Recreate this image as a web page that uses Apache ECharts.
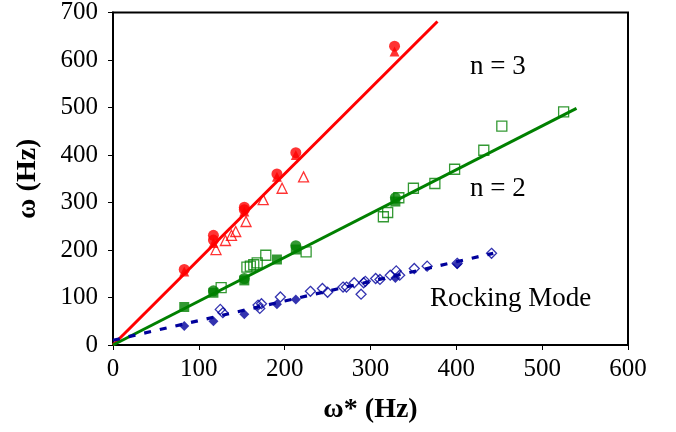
<!DOCTYPE html>
<html>
<head>
<meta charset="utf-8">
<script src="https://cdn.jsdelivr.net/npm/echarts@6/dist/echarts.min.js"></script>
<style>
html,body{margin:0;padding:0;background:#fff;}
#chart{width:676px;height:432px;}
</style>
</head>
<body>
<div id="chart"></div>
<script>
// ---- data (ω*, ω) in Hz ----
var xTicks = [0, 100, 200, 300, 400, 500, 600];
var yTicks = [0, 100, 200, 300, 400, 500, 600, 700];

var n3Fit = [[0, 0], [378, 681]];
var n3Filled = [[83, 159], [117, 231], [117, 221], [153, 290], [153, 285], [191, 360], [213, 405], [328, 629]];
var n3FilledTri = [[83, 155], [117, 215], [153, 281], [191, 354], [213, 400], [328, 618]];
var n3Open = [[120, 201], [131, 220], [138, 231], [143, 239], [155, 260], [175, 306], [197, 330], [222, 354]];

var n2Fit = [[0, 0], [540, 498]];
var n2FilledSq = [[83, 80], [117, 110], [153, 136], [191, 180], [213, 201], [329, 302]];
var n2FilledCirc = [[117, 114], [153, 140], [213, 209], [329, 310]];
var n2Open = [[126, 121], [156, 164], [160, 166], [164, 169], [168, 173], [178, 189], [225, 196], [315, 270], [320, 279],
              [333, 310], [350, 330], [375, 340], [398, 370], [432, 410], [453, 461], [525, 491]];

var rockFit = [[0, 10], [443, 193]];
var rockFilled = [[83, 40], [117, 50], [153, 65], [191, 86], [213, 96], [329, 141], [401, 170]];
var rockOpen = [[125, 75], [128, 68], [169, 84], [173, 87], [171, 77], [195, 101], [230, 113], [244, 119], [250, 111],
                [268, 122], [272, 122], [281, 131], [289, 107], [292, 131], [294, 134], [306, 140], [311, 138],
                [323, 147], [330, 156], [334, 147], [351, 161], [366, 166], [401, 172], [441, 193]];

var labels = [
  {text: 'n = 3', left: 470, top: 53},
  {text: 'n = 2', left: 470, top: 175},
  {text: 'Rocking Mode', left: 430, top: 285}
];

var RED = '#ff0000', GREEN = '#008000', BLUE = '#00009c';
var FONT = '"Liberation Serif", "Times New Roman", serif';

function scatter(data, symbol, size, color, hollow) {
  return {
    type: 'scatter', data: data, symbol: symbol, symbolSize: size, silent: true,
    itemStyle: hollow ? {color: 'rgba(0,0,0,0)', borderColor: color, borderWidth: 1.3} : {color: color},
    z: 3
  };
}
function fit(data, color, dashed) {
  return {
    type: 'line', data: data, showSymbol: false, symbol: 'none', silent: true,
    lineStyle: {color: color, width: dashed ? 3.2 : 3, type: dashed ? [7, 9] : 'solid'}, z: 2
  };
}

var chart = echarts.init(document.getElementById('chart'), null, {renderer: 'canvas'});
chart.setOption({
  animation: false,
  grid: {left: 113, right: 48, top: 11, bottom: 87, show: true, borderColor: '#000', borderWidth: 2, backgroundColor: '#fff'},
  xAxis: {
    type: 'value', min: xTicks[0], max: xTicks[xTicks.length - 1], interval: 100,
    name: 'ω* (Hz)', nameLocation: 'middle', nameGap: 51,
    nameTextStyle: {fontFamily: FONT, fontSize: 28, fontWeight: 'bold', color: '#000'},
    axisLine: {show: true, lineStyle: {color: '#000', width: 2}},
    axisTick: {show: true, inside: false, length: 5, lineStyle: {color: '#000', width: 1}},
    axisLabel: {fontFamily: FONT, fontSize: 25, color: '#000', margin: 12},
    splitLine: {show: false}
  },
  yAxis: {
    type: 'value', min: yTicks[0], max: yTicks[yTicks.length - 1], interval: 100,
    name: 'ω (Hz)', nameLocation: 'middle', nameGap: 71, nameRotate: 90,
    nameTextStyle: {fontFamily: FONT, fontSize: 28, fontWeight: 'bold', color: '#000'},
    axisLine: {show: true, lineStyle: {color: '#000', width: 2}},
    axisTick: {show: true, inside: false, length: 5, lineStyle: {color: '#000', width: 1}},
    axisLabel: {fontFamily: FONT, fontSize: 25, color: '#000', margin: 15},
    splitLine: {show: false}
  },
  graphic: labels.map(function (l) {
    return {type: 'text', left: l.left, top: l.top, z: 10,
      style: {text: l.text, font: '27px ' + FONT, fill: '#000'}};
  }),
  series: [
    fit(n3Fit, RED, false),
    fit(n2Fit, GREEN, false),
    fit(rockFit, BLUE, true),
    scatter(n3Open, 'triangle', 10, RED, true),
    scatter(n3FilledTri, 'triangle', 10, RED, false),
    scatter(n3Filled, 'circle', 11, RED, false),
    scatter(n2Open, 'rect', 10, GREEN, true),
    scatter(n2FilledSq, 'rect', 10, GREEN, false),
    scatter(n2FilledCirc, 'circle', 11, GREEN, false),
    scatter(rockOpen, 'diamond', 10, BLUE, true),
    scatter(rockFilled, 'diamond', 10, BLUE, false)
  ]
});
</script>
</body>
</html>
